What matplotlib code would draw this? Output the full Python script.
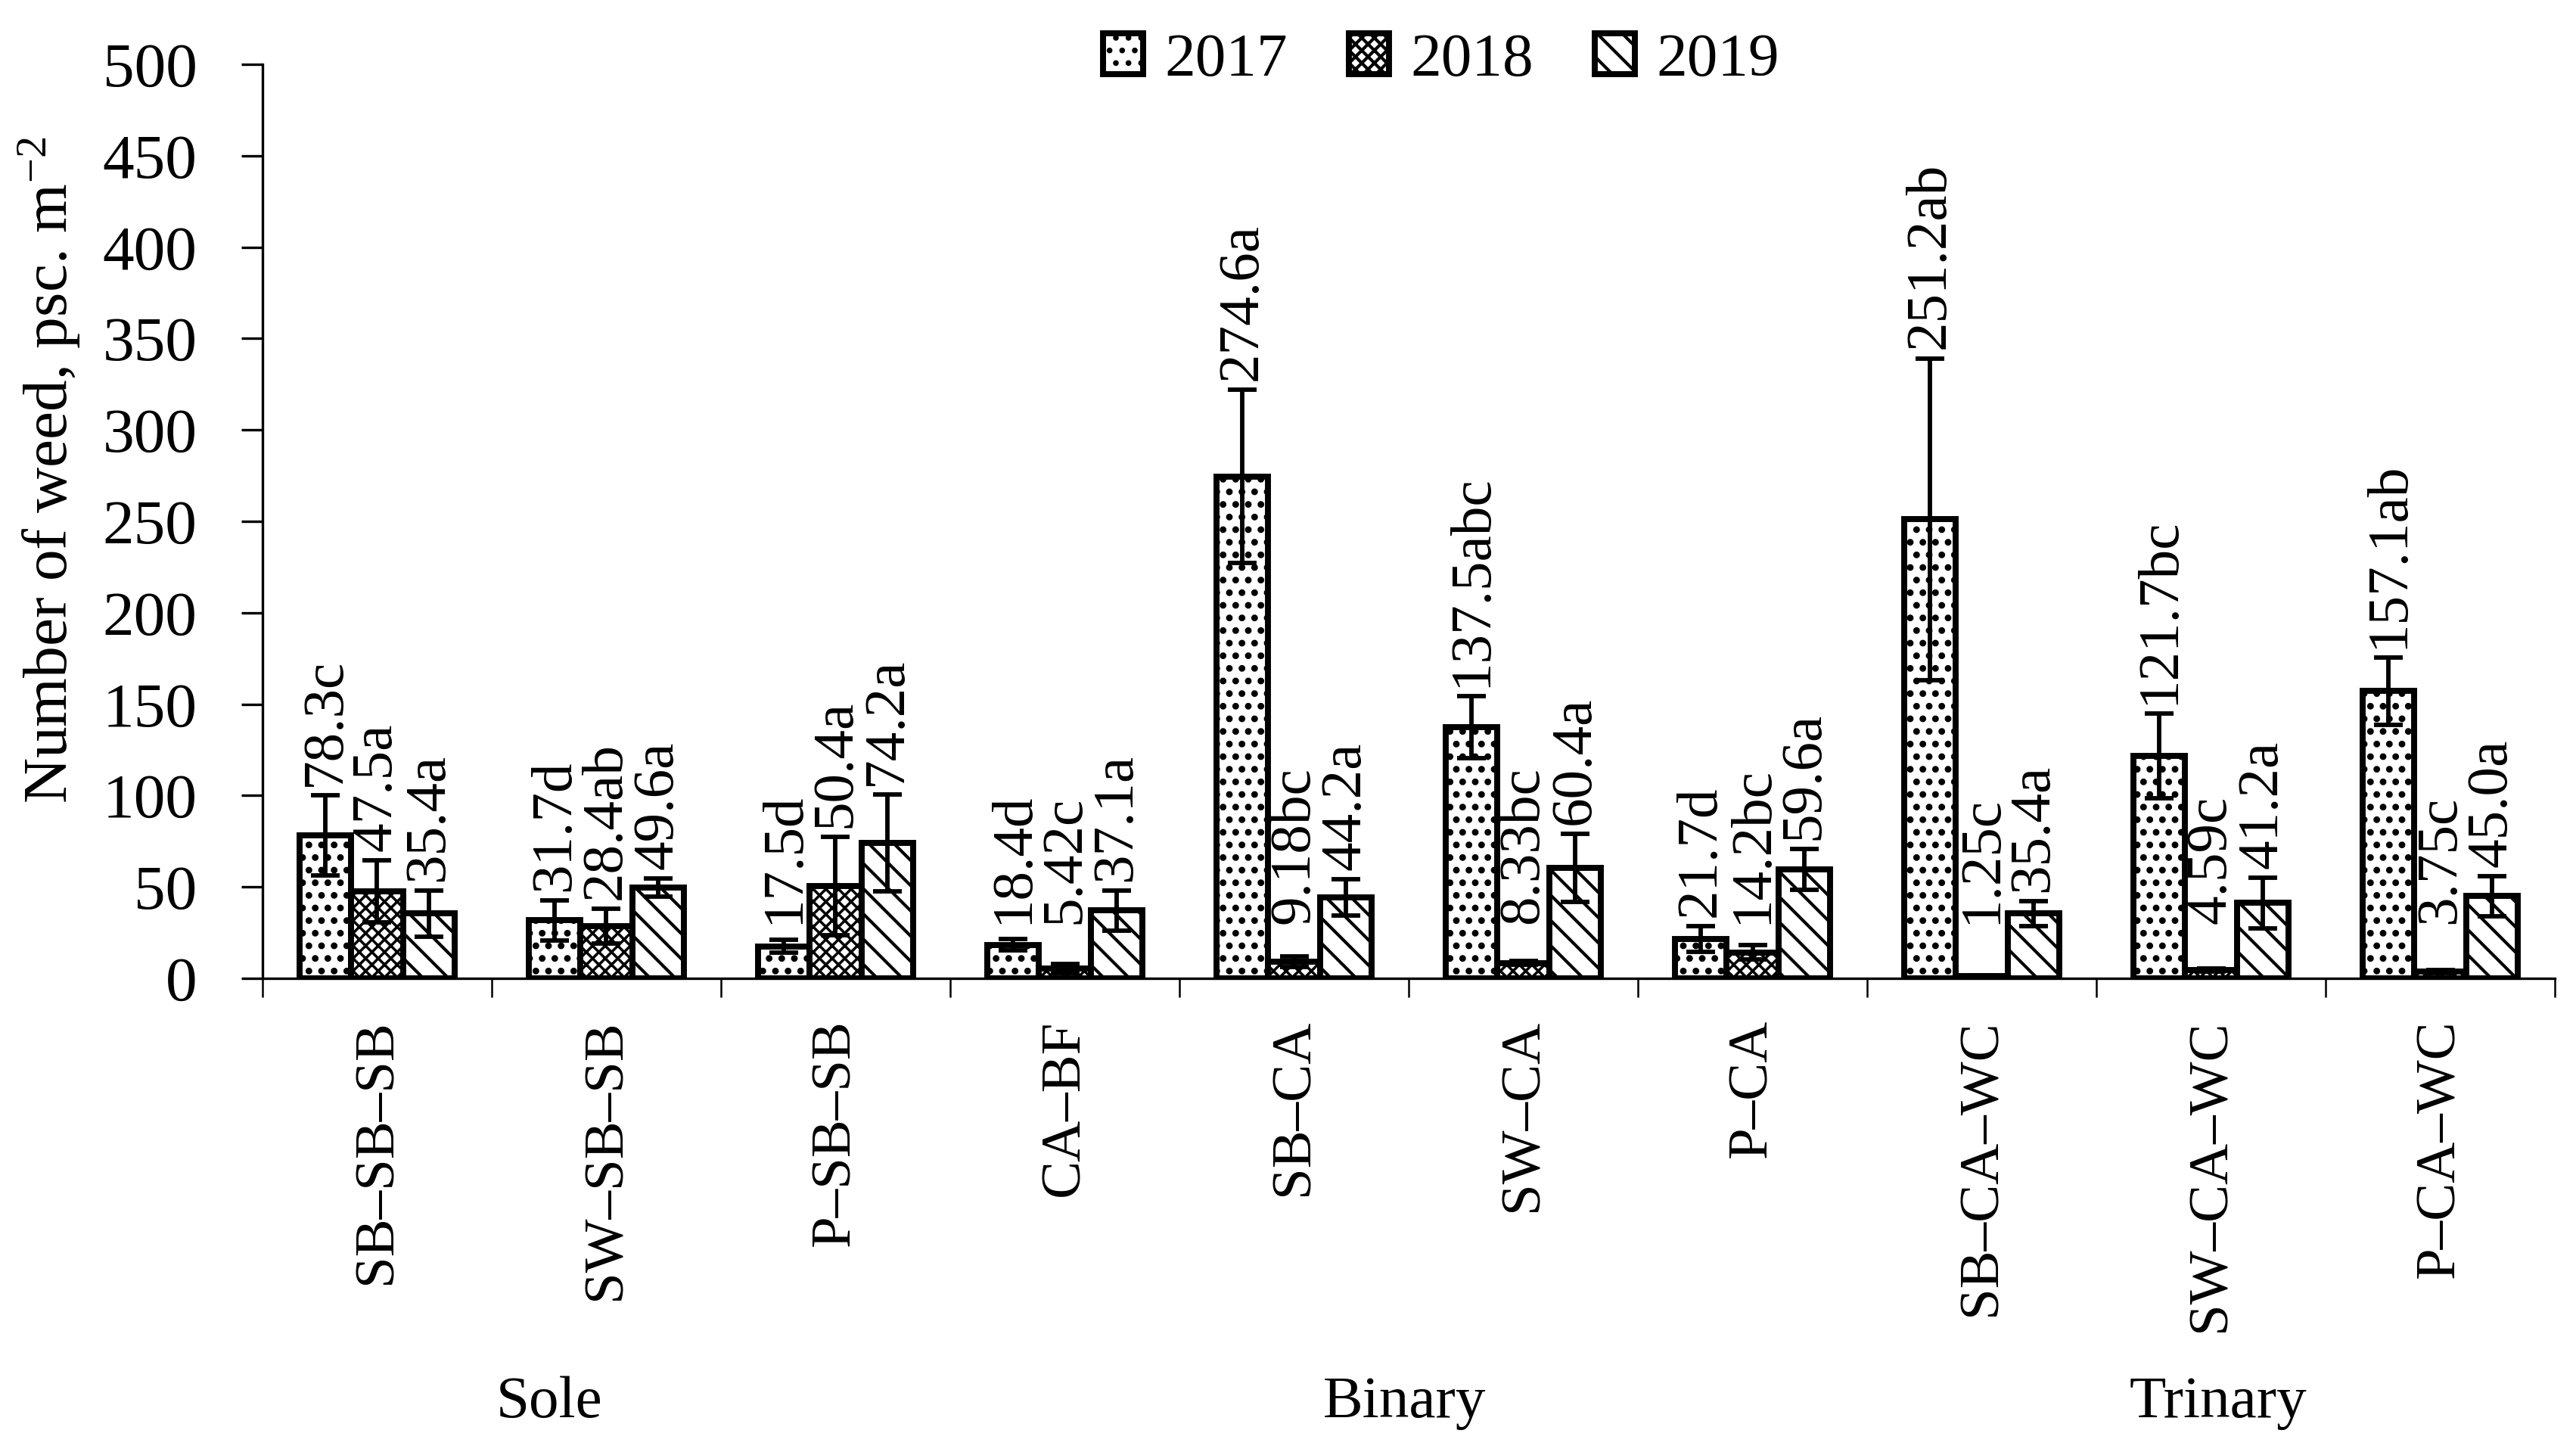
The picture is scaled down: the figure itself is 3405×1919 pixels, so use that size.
import numpy as np
import matplotlib.pyplot as plt

plt.rcParams['font.family'] = ['Liberation Serif', 'DejaVu Serif']
plt.rcParams['mathtext.fontset'] = 'custom'
plt.rcParams['mathtext.rm'] = 'Liberation Serif'
plt.rcParams['mathtext.default'] = 'regular'

categories = ['SB–SB–SB', 'SW–SB–SB', 'P–SB–SB', 'CA–BF', 'SB–CA', 'SW–CA',
              'P–CA', 'SB–CA–WC', 'SW–CA–WC', 'P–CA–WC']
years = ['2017', '2018', '2019']
groups = ['Sole', 'Binary', 'Trinary']

w2017 = [78.3, 31.7, 17.5, 18.4, 274.6, 137.5, 21.7, 251.2, 121.7, 157.1]
w2018 = [47.5, 28.4, 50.4, 5.42, 9.18, 8.33, 14.2, 1.25, 4.59, 3.75]
w2019 = [35.4, 49.6, 74.2, 37.1, 44.2, 60.4, 59.6, 35.4, 41.2, 45.0]

# error bars
e2017 = [22, 11, 3.5, 3, 47.5, 17, 7, 88, 23, 18.5]
e2018 = [17, 9.5, 27, 2.5, 3, 1, 4, 0.5, 1, 1]
e2019 = [12.5, 5, 26.5, 11, 10, 18.5, 11, 7, 14, 11]

lab2017 = ['78.3c', '31.7d', '17.5d', '18.4d', '274.6a', '137.5abc', '21.7d',
           '251.2ab', '121.7bc', '157.1ab']
lab2018 = ['47.5a', '28.4ab', '50.4a', '5.42c', '9.18bc', '8.33bc', '14.2bc',
           '1.25c', '4.59c', '3.75c']
lab2019 = ['35.4a', '49.6a', '74.2a', '37.1a', '44.2a', '60.4a', '59.6a',
           '35.4a', '41.2a', '45.0a']

values = [w2017, w2018, w2019]
errors = [e2017, e2018, e2019]
labels = [lab2017, lab2018, lab2019]
hatches = ['...', 'xxxxxx', '\\\\\\']
hatch_lw = [1.3, 0.85, 1.0]

fig = plt.figure(figsize=(11.35, 6.3967), dpi=300)
ax = fig.add_axes([0.1019, 0.3262, 0.8899, 0.6295])

x = np.arange(len(categories))
bw = 0.225
handles = []
for j in range(3):
    pos = x + (j - 1) * bw
    bars = ax.bar(pos, values[j], bw, color='white', edgecolor='black',
                  linewidth=1.9, hatch=hatches[j], label=years[j], zorder=2)
    for p in bars.patches:
        if hasattr(p, 'set_hatch_linewidth'):
            p.set_hatch_linewidth(hatch_lw[j])
    handles.append(bars)
    ax.errorbar(pos, values[j], yerr=errors[j], fmt='none', ecolor='black',
                elinewidth=1.4, capsize=4.5, capthick=1.4, zorder=3)
    for xi, v, e, t in zip(pos, values[j], errors[j], labels[j]):
        ax.text(xi, max(v + e, 25) + 5, t, rotation=90, ha='center', va='bottom',
                fontsize=18.5)

ax.set_xlim(-0.5, len(categories) - 0.5)
ax.set_ylim(0, 500)
ax.set_yticks(np.arange(0, 501, 50))
ax.tick_params(axis='y', direction='out', length=6.7, width=0.8, pad=14, labelsize=20)

ax.set_xticks(np.arange(-0.5, len(categories), 1))
ax.set_xticklabels([])
ax.tick_params(axis='x', which='major', direction='out', length=6, width=0.6)
ax.set_xticks(x, minor=True)
ax.set_xticklabels(categories, minor=True, rotation=90, fontsize=18)
ax.tick_params(axis='x', which='minor', length=0, pad=13)

for s in ['top', 'right']:
    ax.spines[s].set_visible(False)
ax.spines['left'].set_linewidth(0.8)
ax.spines['bottom'].set_linewidth(0.8)

fig.text(65 / 3405, 1 - 621 / 1919, 'Number of weed, psc. m$^{-2}$',
         rotation=90, ha='center', va='center', fontsize=20)

# group names in the row under the category names
group_x = [0.75, 4.48, 8.03]
group_y = -(1854 - 1293) / 1208
for gx, g in zip(group_x, groups):
    ax.text(gx, group_y, g, transform=ax.get_xaxis_transform(), ha='center',
            va='center', fontsize=19)

leg = fig.legend(handles=handles, labels=years, loc='center', ncol=3,
                 bbox_to_anchor=(0.5595, 1 - 80 / 1919), frameon=False,
                 fontsize=19.5, handlelength=0.65, handleheight=0.65,
                 handletextpad=0.35, columnspacing=1.0)

fig.savefig('out.png', dpi=300, facecolor='white')
